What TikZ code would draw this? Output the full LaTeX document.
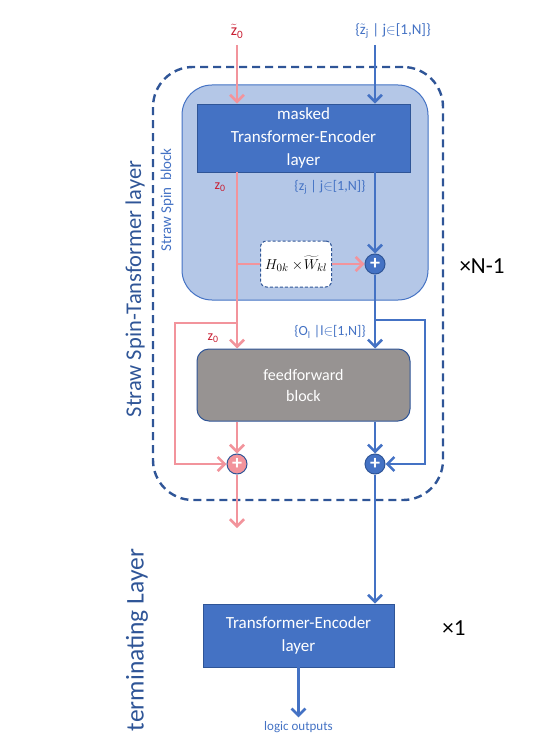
\documentclass[tikz,border=0pt]{standalone}
\usepackage{fontspec}
\setmainfont{Carlito}
\usetikzlibrary{positioning,arrows.meta,calc}
\definecolor{encblue}{RGB}{68,114,196}
\definecolor{darkblue}{RGB}{47,85,151}
\definecolor{lightblue}{RGB}{180,199,231}
\definecolor{pinkline}{RGB}{242,148,156}
\definecolor{zred}{RGB}{200,30,50}
\definecolor{ffgray}{RGB}{151,147,146}
\newcommand{\ztilde}{$\tilde{\mbox{z}}$}
\tikzset{
  encbox/.style = {rectangle, fill=encblue, draw=darkblue, line width=0.8pt,
    text=white, align=center, inner sep=0pt},
  plusnode/.style = {circle, minimum size=20pt, inner sep=0pt, draw=darkblue,
    line width=1pt, text=white, font=\bfseries\fontsize{20}{20}\selectfont},
  pinkln/.style = {draw=pinkline, line width=2.6pt},
  blueln/.style = {draw=encblue, line width=2.6pt},
  arr/.style = {-{Straight Barb[length=7pt,width=14pt]}},
  zlab/.style = {text=zred, font=\fontsize{14}{16}\selectfont, inner sep=0pt},
  blab/.style = {text=encblue, font=\fontsize{14}{16}\selectfont, inner sep=0pt}
}
\begin{document}
\begin{tikzpicture}[x=1pt, y=-1pt]
  \useasboundingbox (0,0) rectangle (550,751);

  % frames
  \node[rectangle, rounded corners=40pt, draw=darkblue, line width=2.4pt,
        dash pattern=on 8pt off 5pt, minimum width=290pt, minimum height=433pt]
        (sstl) at (298,283.5) {};
  \node[rectangle, rounded corners=30pt, fill=lightblue, draw=encblue, line width=1pt,
        minimum width=246pt, minimum height=215pt] (ssb) at (305,192.5) {};

  % boxes
  \node[encbox, minimum width=213pt, minimum height=68pt,
        font=\fontsize{17}{23}\selectfont] (mte) at (303.5,138)
        {masked\\Transformer-Encoder\\layer};
  \node[rectangle, rounded corners=6pt, fill=white, draw=darkblue, line width=1pt,
        dash pattern=on 3pt off 2pt, minimum width=71pt, minimum height=46pt,
        inner sep=1pt, font=\fontsize{15}{17}\selectfont] (hbox) at (296,264)
        {$H_{0k}\times\!\widetilde{W}_{kl}$};
  \node[plusnode, fill=encblue] (p1) at (375,264) {+};
  \node[rectangle, rounded corners=12pt, fill=ffgray, draw=darkblue, line width=1pt,
        text=white, align=center, minimum width=213pt, minimum height=72pt,
        font=\fontsize{16}{21}\selectfont] (ffb) at (303.5,385) {feedforward\\block};
  \node[plusnode, fill=pinkline] (p2) at (237,464) {+};
  \node[plusnode, fill=encblue] (p3) at (375,464) {+};
  \node[encbox, minimum width=191pt, minimum height=63pt,
        font=\fontsize{17}{23}\selectfont] (teb) at (298.5,635.5)
        {Transformer-Encoder\\layer};

  % labels
  \node[zlab, font=\fontsize{16}{18}\selectfont] (z0t) at (237,31) {\ztilde\textsubscript{0}};
  \node[blab, font=\fontsize{15}{17}\selectfont] (zjt) at (393,31)
        {\{\ztilde\textsubscript{j} | j$\in$[1,N]\}};
  \node[zlab] (z0a) at (220,187) {z\textsubscript{0}};
  \node[blab] (zja) at (330,187) {\{z\textsubscript{j} | j$\in$[1,N]\}};
  \node[zlab] (z0b) at (213,338) {z\textsubscript{0}};
  \node[blab] (ola) at (330,332) {\{O\textsubscript{l} |l$\in$[1,N]\}};
  \node[font=\fontsize{23}{25}\selectfont] (xn) at (482,266) {×N-1};
  \node[font=\fontsize{23}{25}\selectfont] (x1) at (454,628) {×1};
  \node[blab, font=\fontsize{13}{15}\selectfont, inner sep=4pt,
        below=50pt of teb] (lo) {logic outputs};
  \node[rotate=90, text=darkblue, font=\fontsize{22.5}{24}\selectfont] (sstlab)
        at (135,289) {Straw Spin-Tansformer layer};
  \node[rotate=90, text=encblue, font=\fontsize{15}{17}\selectfont] (ssblab)
        at (167,200) {Straw Spin\ \ block};
  \node[rotate=90, text=darkblue, font=\fontsize{25.5}{27}\selectfont] (tllab)
        at (137,640) {terminating Layer};

  % points on the lines
  \coordinate (pin) at (237,45);
  \coordinate (bin) at (375,45);
  \coordinate (pbr) at (237,323);
  \coordinate (pl) at (175,323);
  \coordinate (bbr) at (375,320);
  \coordinate (br) at (425,320);
  \coordinate (pout) at (237,528);

  % pink path
  \draw[pinkln,arr] (pin) -- (pin |- mte.north);
  \draw[pinkln,arr] (pin |- mte.south) -- (pin |- ffb.north);
  \draw[pinkln] (pin |- hbox.west) -- (hbox.west);
  \draw[pinkln,arr] (hbox.east) -- (p1.west);
  \draw[pinkln,arr] (pbr) -- (pl) |- (p2.west);
  \draw[pinkln,arr] (p2 |- ffb.south) -- (p2.north);
  \draw[pinkln,arr] (p2.south) -- (pout);

  % blue path
  \draw[blueln,arr] (bin) -- (bin |- mte.north);
  \draw[blueln,arr] (p1 |- mte.south) -- (p1.north);
  \draw[blueln,arr] (p1.south) -- (p1 |- ffb.north);
  \draw[blueln,arr] (bbr) -- (br) |- (p3.east);
  \draw[blueln,arr] (p3 |- ffb.south) -- (p3.north);
  \draw[blueln,arr] (p3.south) -- (p3 |- teb.north);
  \draw[blueln,arr] (teb.south) -- (lo.north);
\end{tikzpicture}
\end{document}
